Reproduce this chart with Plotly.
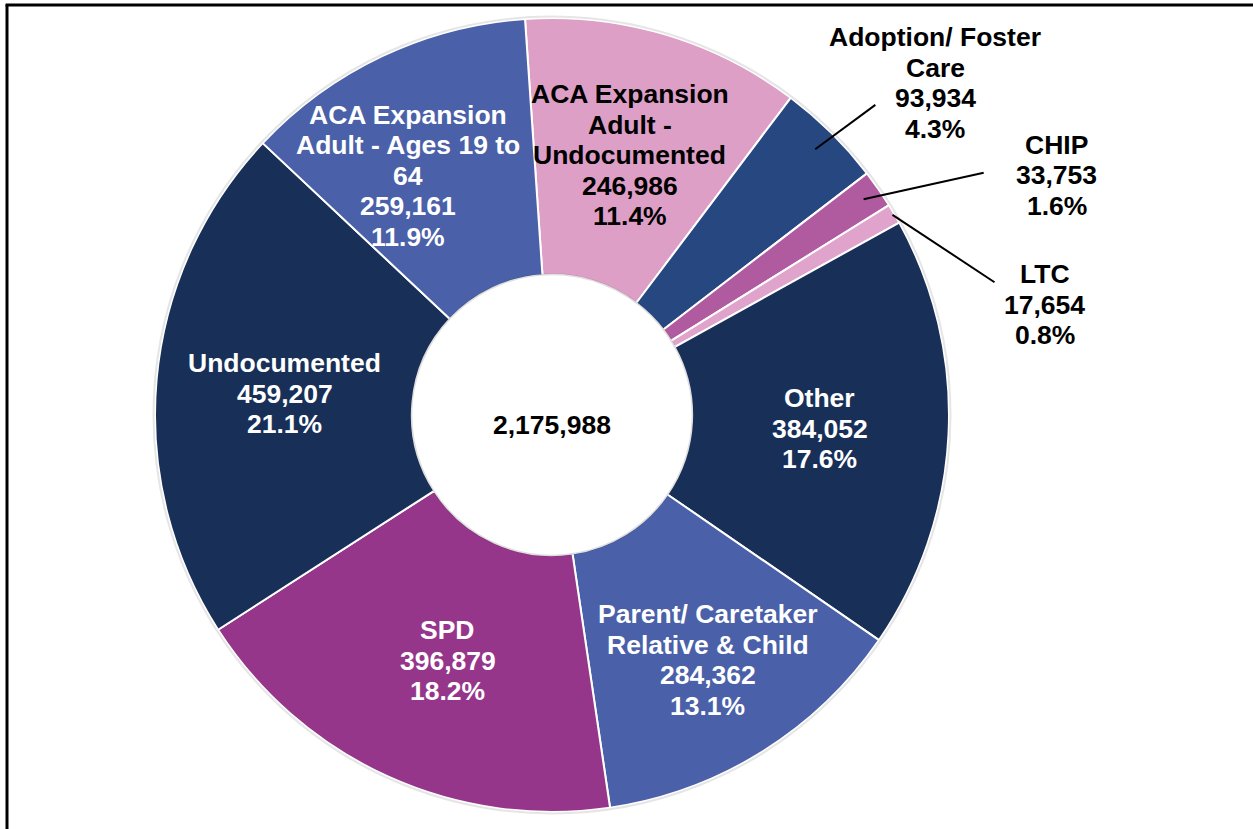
import math
import plotly.graph_objects as go

# ---- data ----
categories = [
    "ACA Expansion Adult - Undocumented",
    "Adoption/ Foster Care",
    "CHIP",
    "LTC",
    "Other",
    "Parent/ Caretaker Relative & Child",
    "SPD",
    "Undocumented",
    "ACA Expansion Adult - Ages 19 to 64",
]
label_lines = [
    ["ACA Expansion", "Adult -", "Undocumented"],
    ["Adoption/ Foster", "Care"],
    ["CHIP"],
    ["LTC"],
    ["Other"],
    ["Parent/ Caretaker", "Relative & Child"],
    ["SPD"],
    ["Undocumented"],
    ["ACA Expansion", "Adult - Ages 19 to", "64"],
]
values = [246986, 93934, 33753, 17654, 384052, 284362, 396879, 459207, 259161]
colors = ["#DE9FC7", "#264780", "#B05AA0", "#E0A3CB", "#182F58",
          "#4A60A8", "#96368A", "#182F58", "#4A60A8"]
text_colors = ["black", "black", "black", "black", "white",
               "white", "white", "white", "white"]
outside = [False, True, True, True, False, False, False, False, False]

# ---- layout geometry (pixels) ----
W, H = 1253, 829
CX, CY, R = 552, 415, 397
HOLE = 0.353
ROTATION = -3.9
FONT = "Liberation Sans, Arial, sans-serif"
FS = 26.5
LINE = 30.5

total = sum(values)

fig = go.Figure(go.Pie(
    labels=categories,
    values=values,
    sort=False,
    direction="clockwise",
    rotation=ROTATION,
    hole=HOLE,
    marker=dict(colors=colors, line=dict(color="white", width=2)),
    textinfo="none",
    hoverinfo="label+value+percent",
    showlegend=False,
    domain=dict(x=[(CX - R) / W, (CX + R) / W],
                y=[1 - (CY + R) / H, 1 - (CY - R) / H]),
))


def polar_px(r, ang_deg):
    a = math.radians(ang_deg)
    return CX + r * math.sin(a), CY - r * math.cos(a)


annotations = []
shapes = []

# subtle shadow rings around outer edge and hole
for rr, col in [(R + 1.5, "rgba(0,0,0,0.10)"), (R * HOLE + 0.5, "rgba(0,0,0,0.13)")]:
    shapes.append(dict(type="circle", xref="paper", yref="paper",
                       x0=(CX - rr) / W, x1=(CX + rr) / W,
                       y0=1 - (CY + rr) / H, y1=1 - (CY - rr) / H,
                       line=dict(color=col, width=2), layer="above"))


def add_block(lines, px, py, color):
    n = len(lines)
    for k, ln in enumerate(lines):
        ly = py + (k - (n - 1) / 2) * LINE
        annotations.append(dict(
            x=px / W, y=1 - ly / H, xref="paper", yref="paper",
            xanchor="center", yanchor="middle", text=f"<b>{ln}</b>",
            showarrow=False, font=dict(family=FONT, size=FS, color=color)))


# per-slice label placement: (radius in px, angle offset in degrees)
inside_place = {0: (271, 0.1), 4: (268, 0.2), 5: (290, -0.5), 6: (267, -1.4),
                7: (268, -0.7), 8: (279, -5.7)}
# outside labels: (label radius, label angle, leader head radius, leader tail radius, tail angle)
outside_place = {1: (507, 49.1, 374, 448, 46.2),
                 2: (559, 64.6, 379, 495, 60.7),
                 3: (505, 77.4, 395, 462, 73.3)}

cum = 0.0
for i, v in enumerate(values):
    frac = v / total
    mid = ROTATION + (cum + frac / 2) * 360
    cum += frac
    lines = label_lines[i] + [f"{v:,}", f"{frac * 100:.1f}%"]
    if not outside[i]:
        rr, dang = inside_place[i]
        px, py = polar_px(rr, mid + dang)
        add_block(lines, px, py, text_colors[i])
    else:
        lr, la, hr, tr, ta = outside_place[i]
        px, py = polar_px(lr, la)
        add_block(lines, px, py, text_colors[i])
        hx, hy = polar_px(hr, mid)
        tx, ty = polar_px(tr, ta)
        shapes.append(dict(type="line", xref="paper", yref="paper",
                           x0=hx / W, y0=1 - hy / H, x1=tx / W, y1=1 - ty / H,
                           line=dict(color="black", width=2)))

# centre total
add_block([f"{total:,}"], CX, CY + 10, "black")

# frame (left and top edges visible)
shapes.append(dict(type="line", xref="paper", yref="paper",
                   x0=7 / W, y0=1 - 5 / H, x1=7 / W, y1=0,
                   line=dict(color="black", width=3)))
shapes.append(dict(type="line", xref="paper", yref="paper",
                   x0=5.5 / W, y0=1 - 5 / H, x1=1, y1=1 - 5 / H,
                   line=dict(color="black", width=3)))

fig.update_layout(
    width=W, height=H,
    margin=dict(l=0, r=0, t=0, b=0),
    paper_bgcolor="white", plot_bgcolor="white",
    annotations=annotations, shapes=shapes,
)

fig.write_html("out.html", config={"displayModeBar": False},
               post_script="document.body.style.margin='0';")
